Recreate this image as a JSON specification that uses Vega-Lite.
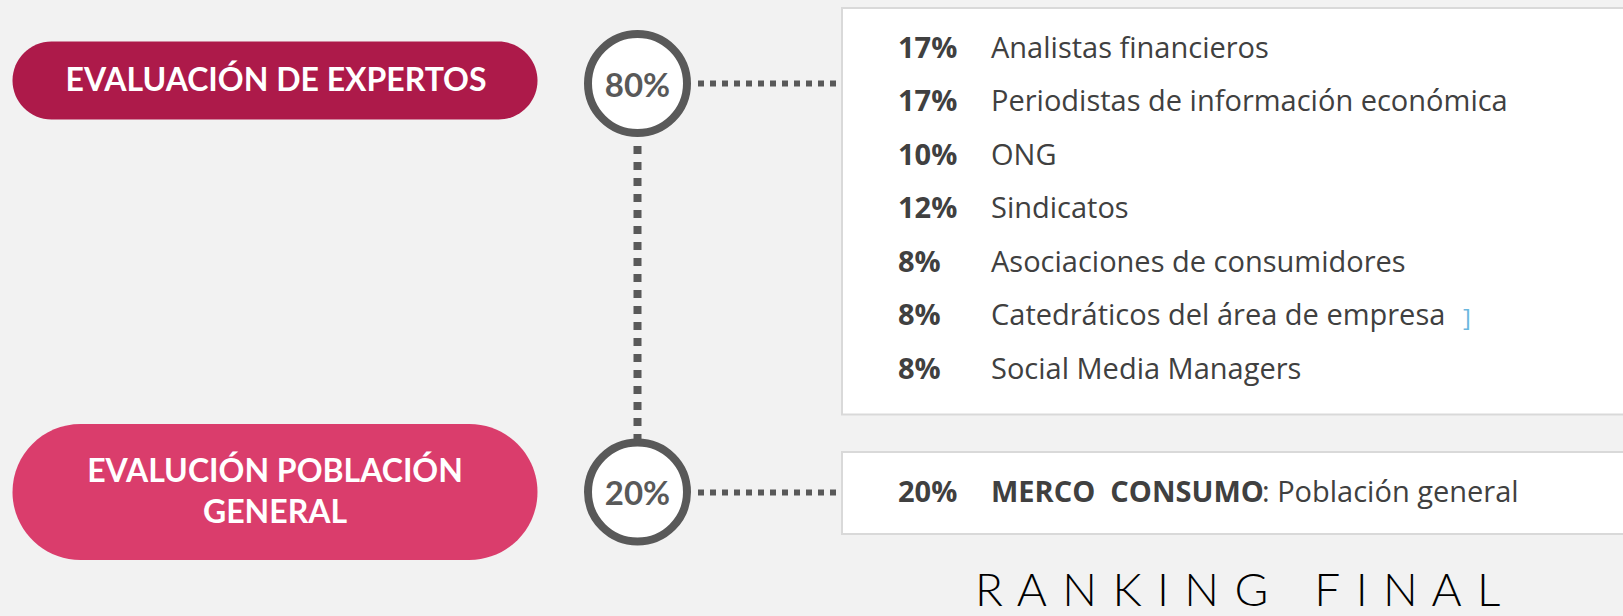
{
  "$schema": "https://vega.github.io/schema/vega-lite/v6.json",
  "width": 1623,
  "height": 616,
  "autosize": {"type": "none"},
  "padding": 0,
  "background": "#f2f2f2",
  "config": {"view": {"stroke": null}, "axis": {"disable": true}, "legend": {"disable": true}},
  "datasets": {
    "groups": [
      {"group": "Expertos", "label": "EVALUACIÓN DE EXPERTOS", "weight": 0.8},
      {"group": "Población", "label": "EVALUCIÓN POBLACIÓN\nGENERAL", "weight": 0.2}
    ],
    "sources": [
      {"group": "Expertos", "order": 1, "pct": 0.17, "source": "Analistas financieros"},
      {"group": "Expertos", "order": 2, "pct": 0.17, "source": "Periodistas de información económica"},
      {"group": "Expertos", "order": 3, "pct": 0.10, "source": "ONG"},
      {"group": "Expertos", "order": 4, "pct": 0.12, "source": "Sindicatos"},
      {"group": "Expertos", "order": 5, "pct": 0.08, "source": "Asociaciones de consumidores"},
      {"group": "Expertos", "order": 6, "pct": 0.08, "source": "Catedráticos del área de empresa"},
      {"group": "Expertos", "order": 7, "pct": 0.08, "source": "Social Media Managers"},
      {"group": "Población", "order": 8, "pct": 0.20, "source": "MERCO \u00a0CONSUMO", "detail": ": Población general"}
    ]
  },
  "layer": [
    {
      "layer": [
        {
          "data": {"values": [{}]},
          "mark": {"type": "rect", "fill": "#ffffff", "stroke": "#d9d9d9", "strokeWidth": 2},
          "encoding": {
            "x": {"datum": 842, "type": "quantitative", "scale": {"domain": [0, 1623], "nice": false, "zero": false}},
            "x2": {"datum": 1640},
            "y": {"datum": 8, "type": "quantitative", "scale": {"domain": [0, 616], "reverse": true, "nice": false, "zero": false}},
            "y2": {"datum": 414.5}
          }
        },
        {
          "data": {"values": [{}]},
          "mark": {"type": "rect", "fill": "#ffffff", "stroke": "#d9d9d9", "strokeWidth": 2},
          "encoding": {
            "x": {"datum": 842, "type": "quantitative"},
            "x2": {"datum": 1640},
            "y": {"datum": 452, "type": "quantitative"},
            "y2": {"datum": 534}
          }
        },
        {
          "data": {"values": [{}]},
          "mark": {"type": "rule", "color": "#595959", "strokeWidth": 8, "strokeDash": [8, 8], "strokeCap": "butt"},
          "encoding": {
            "x": {"datum": 637.5, "type": "quantitative"},
            "y": {"datum": 146, "type": "quantitative"},
            "y2": {"datum": 440}
          }
        },
        {
          "data": {"values": [{}]},
          "mark": {"type": "rule", "color": "#595959", "strokeWidth": 6, "strokeDash": [6, 6], "strokeCap": "butt"},
          "encoding": {
            "x": {"datum": 698, "type": "quantitative"},
            "x2": {"datum": 840},
            "y": {"datum": 83.5, "type": "quantitative"}
          }
        },
        {
          "data": {"values": [{}]},
          "mark": {"type": "rule", "color": "#595959", "strokeWidth": 6, "strokeDash": [6, 6], "strokeCap": "butt"},
          "encoding": {
            "x": {"datum": 698, "type": "quantitative"},
            "x2": {"datum": 840},
            "y": {"datum": 492.5, "type": "quantitative"}
          }
        },
        {
          "data": {"name": "groups"},
          "transform": [{"filter": "datum.group === 'Expertos'"}],
          "layer": [
            {
              "mark": {"type": "rect", "cornerRadius": 39.5},
              "encoding": {
                "x": {"datum": 12.5, "type": "quantitative"},
                "x2": {"datum": 537.5},
                "y": {"datum": 41.5, "type": "quantitative"},
                "y2": {"datum": 119.5},
                "color": {"field": "group", "type": "nominal", "scale": {"domain": ["Expertos", "Población"], "range": ["#ad1a4a", "#da3d6c"]}}
              }
            },
            {
              "mark": {"type": "text", "font": "Lato", "fontWeight": "bold", "fontSize": 32, "color": "#ffffff", "align": "center", "baseline": "alphabetic"},
              "encoding": {
                "x": {"datum": 276, "type": "quantitative"},
                "y": {"datum": 91, "type": "quantitative"},
                "text": {"field": "label"}
              }
            },
            {
              "mark": {"type": "point", "shape": "circle", "filled": true, "fill": "#ffffff", "stroke": "#595959", "strokeWidth": 8, "size": 9800, "opacity": 1},
              "encoding": {
                "x": {"datum": 637.5, "type": "quantitative"},
                "y": {"datum": 83.5, "type": "quantitative"}
              }
            },
            {
              "mark": {"type": "text", "font": "Lato", "fontWeight": "bold", "fontSize": 33, "color": "#595959", "align": "center", "baseline": "alphabetic"},
              "encoding": {
                "x": {"datum": 637.5, "type": "quantitative"},
                "y": {"datum": 96.7, "type": "quantitative"},
                "text": {"field": "weight", "type": "quantitative", "format": ".0%"}
              }
            }
          ]
        },
        {
          "data": {"name": "groups"},
          "transform": [{"filter": "datum.group === 'Población'"}],
          "layer": [
            {
              "mark": {"type": "rect", "cornerRadius": 68},
              "encoding": {
                "x": {"datum": 12.5, "type": "quantitative"},
                "x2": {"datum": 537.5},
                "y": {"datum": 424, "type": "quantitative"},
                "y2": {"datum": 560},
                "color": {"field": "group", "type": "nominal", "scale": {"domain": ["Expertos", "Población"], "range": ["#ad1a4a", "#da3d6c"]}}
              }
            },
            {
              "mark": {"type": "text", "font": "Lato", "fontWeight": "bold", "fontSize": 32, "color": "#ffffff", "align": "center", "baseline": "alphabetic", "lineBreak": "\n", "lineHeight": 41},
              "encoding": {
                "x": {"datum": 275, "type": "quantitative"},
                "y": {"datum": 481.7, "type": "quantitative"},
                "text": {"field": "label"}
              }
            },
            {
              "mark": {"type": "point", "shape": "circle", "filled": true, "fill": "#ffffff", "stroke": "#595959", "strokeWidth": 8, "size": 9800, "opacity": 1},
              "encoding": {
                "x": {"datum": 637.5, "type": "quantitative"},
                "y": {"datum": 492, "type": "quantitative"}
              }
            },
            {
              "mark": {"type": "text", "font": "Lato", "fontWeight": "bold", "fontSize": 33, "color": "#595959", "align": "center", "baseline": "alphabetic"},
              "encoding": {
                "x": {"datum": 637.5, "type": "quantitative"},
                "y": {"datum": 505, "type": "quantitative"},
                "text": {"field": "weight", "type": "quantitative", "format": ".0%"}
              }
            }
          ]
        },
        {
          "data": {"name": "sources"},
          "transform": [{"filter": "datum.group === 'Población'"}],
          "layer": [
            {
              "mark": {"type": "text", "font": "Open Sans", "fontWeight": "bold", "fontSize": 29, "color": "#404040", "align": "left", "baseline": "alphabetic"},
              "encoding": {
                "x": {"datum": 898, "type": "quantitative"},
                "y": {"datum": 501.5, "type": "quantitative"},
                "text": {"field": "pct", "type": "quantitative", "format": ".0%"}
              }
            },
            {
              "mark": {"type": "text", "font": "Open Sans", "fontWeight": "bold", "fontSize": 29, "color": "#404040", "align": "left", "baseline": "alphabetic"},
              "encoding": {
                "x": {"datum": 991, "type": "quantitative"},
                "y": {"datum": 501.5, "type": "quantitative"},
                "text": {"field": "source"}
              }
            },
            {
              "mark": {"type": "text", "font": "Open Sans", "fontSize": 29, "color": "#404040", "align": "left", "baseline": "alphabetic"},
              "encoding": {
                "x": {"datum": 1262, "type": "quantitative"},
                "y": {"datum": 501.5, "type": "quantitative"},
                "text": {"field": "detail"}
              }
            }
          ]
        },
        {
          "data": {"values": [{}]},
          "mark": {"type": "text", "text": "]", "font": "Open Sans", "fontSize": 24, "color": "#6bb7de", "align": "left", "baseline": "alphabetic"},
          "encoding": {
            "x": {"datum": 1463, "type": "quantitative"},
            "y": {"datum": 326, "type": "quantitative"}
          }
        },
        {
          "data": {"values": [{}]},
          "mark": {"type": "text", "text": "R\u200a A\u200a N\u200a K\u200a I\u200a N\u200a G\u200a \u200a \u200a F\u200a I\u200a N\u200a A\u200a L", "font": "Lato", "fontWeight": 300, "fontSize": 46, "color": "#000000", "align": "left", "baseline": "alphabetic"},
          "encoding": {
            "x": {"datum": 975, "type": "quantitative"},
            "y": {"datum": 606, "type": "quantitative"}
          }
        }
      ]
    },
    {
      "data": {"name": "sources"},
      "transform": [{"filter": "datum.group === 'Expertos'"}],
      "layer": [
        {
          "mark": {"type": "text", "font": "Open Sans", "fontWeight": "bold", "fontSize": 29, "color": "#404040", "align": "left", "baseline": "alphabetic"},
          "encoding": {
            "x": {"datum": 898, "type": "quantitative"},
            "y": {"field": "order", "type": "quantitative", "scale": {"domain": [-0.07477, 11.43925], "reverse": true, "nice": false, "zero": false}},
            "text": {"field": "pct", "type": "quantitative", "format": ".0%"}
          }
        },
        {
          "mark": {"type": "text", "font": "Open Sans", "fontSize": 29, "color": "#404040", "align": "left", "baseline": "alphabetic"},
          "encoding": {
            "x": {"datum": 991, "type": "quantitative"},
            "y": {"field": "order", "type": "quantitative"},
            "text": {"field": "source"}
          }
        }
      ]
    }
  ],
  "resolve": {"scale": {"y": "independent"}}
}
